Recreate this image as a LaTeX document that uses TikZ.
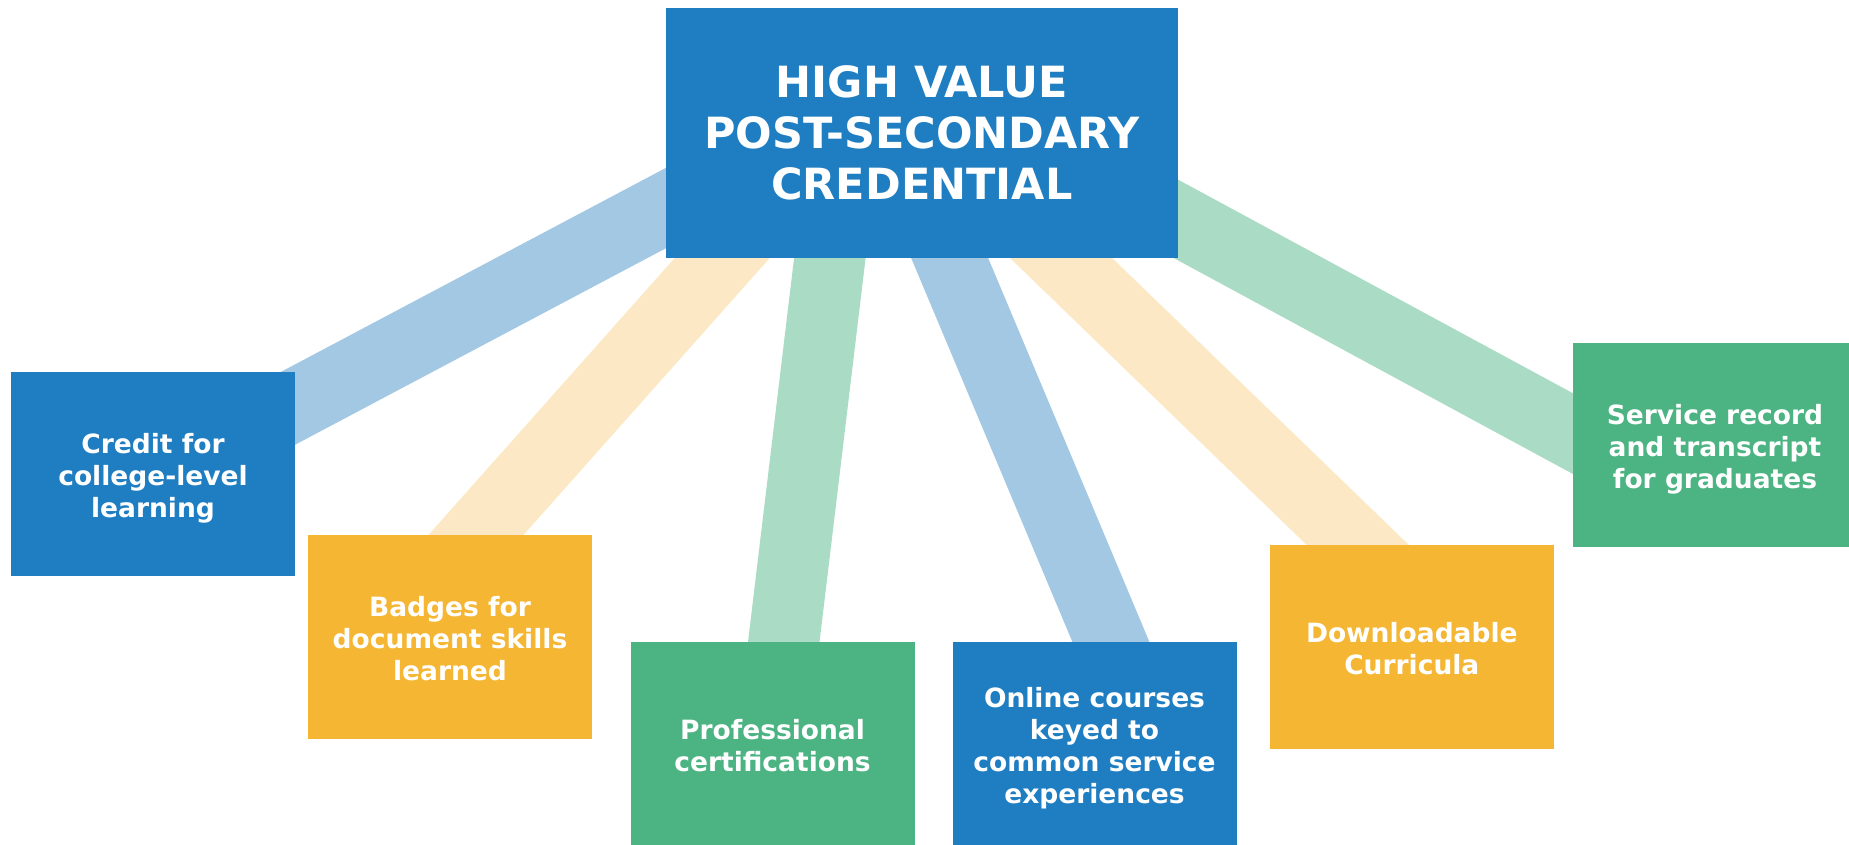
\documentclass[tikz,border=0pt]{standalone}
\usepackage{fontspec}
\setmainfont{DejaVu Sans}
\usetikzlibrary{backgrounds}
\definecolor{cblue}{HTML}{1F7EC1}
\definecolor{cyellow}{HTML}{F4B633}
\definecolor{cgreen}{HTML}{4CB383}
\definecolor{lblue}{HTML}{A2C8E3}
\definecolor{lyellow}{HTML}{FCE8C4}
\definecolor{lgreen}{HTML}{AADBC5}
\newcommand{\boxtxt}[1]{\begin{tabular}{@{}c@{}}\rule{0pt}{33pt}#1\end{tabular}}
\begin{document}
\begin{tikzpicture}[x=1pt,y=-1pt,
  box/.style={minimum width=284pt, minimum height=204pt, inner sep=0pt,
    text=white, font=\fontsize{26.5}{32.2}\selectfont\bfseries},
  topbox/.style={minimum width=511.7pt, minimum height=249.7pt, inner sep=0pt, align=center,
    text=white, fill=cblue, font=\fontsize{43}{50.8}\selectfont\bfseries},
  band/.style={line width=71pt}]
\useasboundingbox (0,0) rectangle (1849,844);
% boxes
\node[topbox] (top) at (921.85,132.85) {HIGH VALUE\\POST-SECONDARY\\CREDENTIAL};
\node[box, fill=cblue] (credit) at (153,473.7) {\boxtxt{Credit for\\college-level\\learning}};
\node[box, fill=cyellow] (badges) at (450,636.7) {\boxtxt{Badges for\\document skills\\learned}};
\node[box, fill=cgreen] (prof) at (772.5,744) {\boxtxt{Professional\\certifications}};
\node[box, fill=cblue] (online) at (1094.5,744) {\boxtxt{Online courses\\keyed to\\common service\\experiences}};
\node[box, fill=cyellow] (download) at (1411.8,646.7) {\boxtxt{Downloadable\\Curricula}};
\node[box, fill=cgreen] (service) at (1715,445) {\boxtxt{Service record\\and transcript\\for graduates}};
% band end points (inside the boxes)
\coordinate (b1s) at (746,165.6);   \coordinate (b1e) at (215,447);
\coordinate (b2s) at (773.8,200);   \coordinate (b2e) at (435.9,580);
\coordinate (b3s) at (836.8,200);   \coordinate (b3e) at (776.8,700);
\coordinate (b4s) at (925.3,200);   \coordinate (b4e) at (1135.3,700);
\coordinate (b5s) at (1001.1,200);  \coordinate (b5e) at (1414.7,600);
\coordinate (b6s) at (1120,188.6);  \coordinate (b6e) at (1640,469.9);
\begin{scope}[on background layer]
\fill[white] (0,0) rectangle (1849,844);
\draw[band, lblue]   (b1s) -- (b1e);
\draw[band, lyellow] (b2s) -- (b2e);
\draw[band, lgreen]  (b3s) -- (b3e);
\draw[band, lblue]   (b4s) -- (b4e);
\draw[band, lyellow] (b5s) -- (b5e);
\draw[band, lgreen]  (b6s) -- (b6e);
\end{scope}
\end{tikzpicture}
\end{document}
